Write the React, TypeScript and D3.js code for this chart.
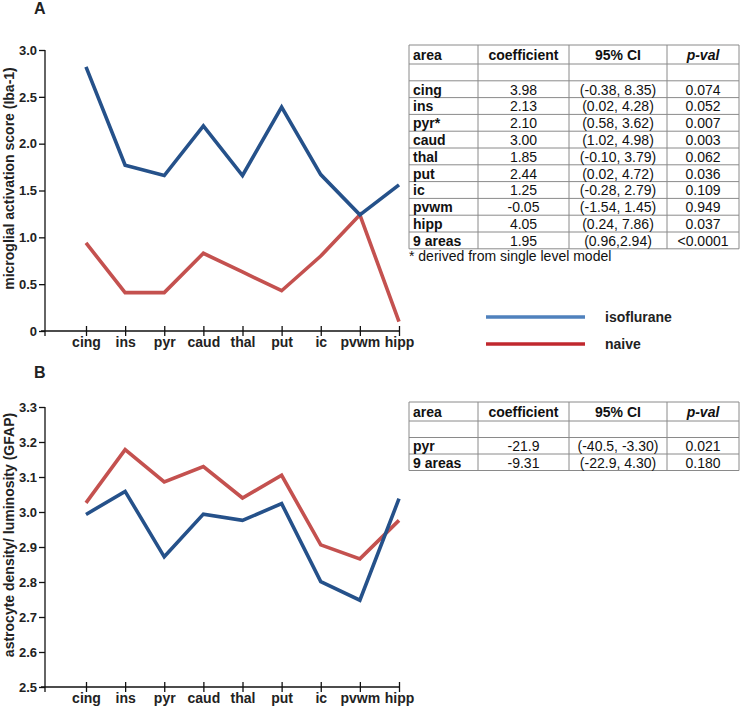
import React, { useEffect, useRef } from 'react';
import * as d3 from 'd3';

// brain areas on the x axis
const areas = ['cing', 'ins', 'pyr', 'caud', 'thal', 'put', 'ic', 'pvwm', 'hipp'];

// panel A - microglial activation score (Iba-1)
const microIso = [2.82, 1.77, 1.66, 2.19, 1.66, 2.39, 1.67, 1.24, 1.56];
const microNaive = [0.94, 0.41, 0.41, 0.83, 0.63, 0.43, 0.8, 1.24, 0.1];
const microTicks = [0, 0.5, 1.0, 1.5, 2.0, 2.5, 3.0];

// panel B - astrocyte density / luminosity (GFAP)
const astroIso = [2.993, 3.059, 2.872, 2.994, 2.976, 3.024, 2.801, 2.748, 3.038];
const astroNaive = [3.026, 3.178, 3.086, 3.13, 3.04, 3.105, 2.906, 2.866, 2.976];
const astroTicks = [2.5, 2.6, 2.7, 2.8, 2.9, 3.0, 3.1, 3.2, 3.3];

// regression tables
const tableHeader = ['area', 'coefficient', '95% CI', 'p-val'];
const tableAreasA = ['cing', 'ins', 'pyr*', 'caud', 'thal', 'put', 'ic', 'pvwm', 'hipp', '9 areas'];
const coefA = ['3.98', '2.13', '2.10', '3.00', '1.85', '2.44', '1.25', '-0.05', '4.05', '1.95'];
const ciA = ['(-0.38, 8.35)', '(0.02, 4.28)', '(0.58, 3.62)', '(1.02, 4.98)', '(-0.10, 3.79)', '(0.02, 4.72)', '(-0.28, 2.79)', '(-1.54, 1.45)', '(0.24, 7.86)', '(0.96,2.94)'];
const pA = ['0.074', '0.052', '0.007', '0.003', '0.062', '0.036', '0.109', '0.949', '0.037', '<0.0001'];
const tableAreasB = ['pyr', '9 areas'];
const coefB = ['-21.9', '-9.31'];
const ciB = ['(-40.5, -3.30)', '(-22.9, 4.30)'];
const pB = ['0.021', '0.180'];

const seriesNames = ['isoflurane', 'naive'];

const FONT = 'Liberation Sans, Arial, sans-serif';
const BLUE = '#25518a';
const RED = '#c4514f';

const App = () => {
  const ref = useRef(null);

  useEffect(() => {
    const svg = d3.select(ref.current);
    svg.selectAll('*').remove();
    svg.style('font-family', FONT);

    const x = d3.scalePoint().domain(areas).range([86, 399]);
    const axisX = 45;

    // draws one line panel
    function panel(y, ticks, fmt, iso, naive, title, letter, letterY) {
      const [y0, y1] = y.range();
      const g = svg.append('g');

      // y axis
      g.append('line')
        .attr('x1', axisX).attr('x2', axisX)
        .attr('y1', y1).attr('y2', y0 + 5)
        .attr('stroke', '#111').attr('stroke-width', 1.3);
      g.append('line')
        .attr('x1', axisX - 4).attr('x2', x.range()[1])
        .attr('y1', y0).attr('y2', y0)
        .attr('stroke', '#111').attr('stroke-width', 1.3);

      const yAxis = g.append('g')
        .attr('transform', `translate(${axisX},0)`)
        .call(d3.axisLeft(y).tickValues(ticks).tickSize(6).tickSizeOuter(0).tickFormat(fmt));
      yAxis.select('.domain').remove();
      yAxis.selectAll('line').attr('stroke', '#111').attr('stroke-width', 1.3);
      yAxis.selectAll('text')
        .attr('x', -8)
        .attr('font-family', FONT).attr('font-size', 13).attr('font-weight', 'bold').attr('fill', '#222');

      const xAxis = g.append('g')
        .attr('transform', `translate(0,${y0})`)
        .call(d3.axisBottom(x).tickSize(5).tickSizeOuter(0));
      xAxis.select('.domain').remove();
      xAxis.selectAll('line').attr('y1', -5).attr('y2', 5).attr('stroke', '#111').attr('stroke-width', 1.3);
      xAxis.selectAll('text')
        .attr('y', 16).attr('dy', 0)
        .attr('font-family', FONT).attr('font-size', 14).attr('font-weight', 'bold').attr('fill', '#222');

      const line = d3.line().x((d, i) => x(areas[i])).y((d) => y(d));
      [[naive, RED], [iso, BLUE]].forEach(([vals, col]) => {
        g.append('path')
          .datum(vals)
          .attr('d', line)
          .attr('fill', 'none')
          .attr('stroke', col)
          .attr('stroke-width', 3.6)
          .attr('stroke-linejoin', 'miter');
      });

      // axis title
      g.append('text')
        .attr('transform', `translate(14,${(y0 + y1) / 2 - 12}) rotate(-90)`)
        .attr('text-anchor', 'middle')
        .attr('font-size', 14).attr('font-weight', 'bold').attr('fill', '#222')
        .text(title);

      g.append('text')
        .attr('x', 34).attr('y', letterY)
        .attr('font-size', 16).attr('font-weight', 'bold').attr('fill', '#222')
        .text(letter);
    }

    panel(d3.scaleLinear().domain([0, 3]).range([331, 50]), microTicks,
      (d) => (d === 0 ? '0' : d3.format('.1f')(d)), microIso, microNaive,
      'microglial activation score (Iba-1)', 'A', 14);
    panel(d3.scaleLinear().domain([2.5, 3.3]).range([687, 407]), astroTicks,
      d3.format('.1f'), astroIso, astroNaive,
      'astrocyte density/ luminosity (GFAP)', 'B', 378);

    // tables
    const colX = [409, 478, 569, 667, 739];
    function table(top, rowH, names, coef, ci, pv) {
      const g = svg.append('g');
      const rowsY = [top, top + 19, top + 19 + rowH];
      names.forEach(() => rowsY.push(rowsY[rowsY.length - 1] + rowH));
      const bottom = rowsY[rowsY.length - 1];
      rowsY.forEach((ry) => {
        g.append('line').attr('x1', colX[0]).attr('x2', colX[4]).attr('y1', ry).attr('y2', ry)
          .attr('stroke', '#8a8a8a').attr('stroke-width', 1);
      });
      colX.forEach((cx) => {
        g.append('line').attr('x1', cx).attr('x2', cx).attr('y1', top).attr('y2', bottom)
          .attr('stroke', '#8a8a8a').attr('stroke-width', 1);
      });
      const mid = (i) => (colX[i] + colX[i + 1]) / 2;
      tableHeader.forEach((h, i) => {
        g.append('text')
          .attr('x', i === 0 ? colX[0] + 4 : mid(i))
          .attr('y', top + 15)
          .attr('text-anchor', i === 0 ? 'start' : 'middle')
          .attr('font-size', 14).attr('font-weight', 'bold')
          .attr('font-style', i === 3 ? 'italic' : 'normal')
          .attr('fill', '#111')
          .text(h);
      });
      names.forEach((n, r) => {
        const ty = rowsY[r + 2] + rowH - 3;
        const cells = [n, coef[r], ci[r], pv[r]];
        cells.forEach((c, i) => {
          g.append('text')
            .attr('x', i === 0 ? colX[0] + 4 : mid(i))
            .attr('y', ty)
            .attr('text-anchor', i === 0 ? 'start' : 'middle')
            .attr('font-size', 14)
            .attr('font-weight', i === 0 ? 'bold' : 'normal')
            .attr('fill', '#111')
            .text(c);
        });
      });
    }
    table(45, 16.8, tableAreasA, coefA, ciA, pA);
    table(402, 16.5, tableAreasB, coefB, ciB, pB);

    svg.append('text')
      .attr('x', 409).attr('y', 261)
      .attr('font-size', 14).attr('fill', '#111')
      .text('* derived from single level model');

    // legend
    const legendCols = ['#4f81bd', '#c0282e'];
    seriesNames.forEach((s, i) => {
      const ly = 317 + i * 27;
      svg.append('line')
        .attr('x1', 486).attr('x2', 585).attr('y1', ly).attr('y2', ly)
        .attr('stroke', legendCols[i]).attr('stroke-width', 3.5);
      svg.append('text')
        .attr('x', 605).attr('y', ly + 5)
        .attr('font-size', 14).attr('font-weight', 'bold').attr('fill', '#222')
        .text(s);
    });
  }, []);

  return (
    <svg
      ref={ref}
      width={740}
      height={708}
      style={{ position: 'absolute', left: 0, top: 0, background: '#fff' }}
    />
  );
};

export default App;
